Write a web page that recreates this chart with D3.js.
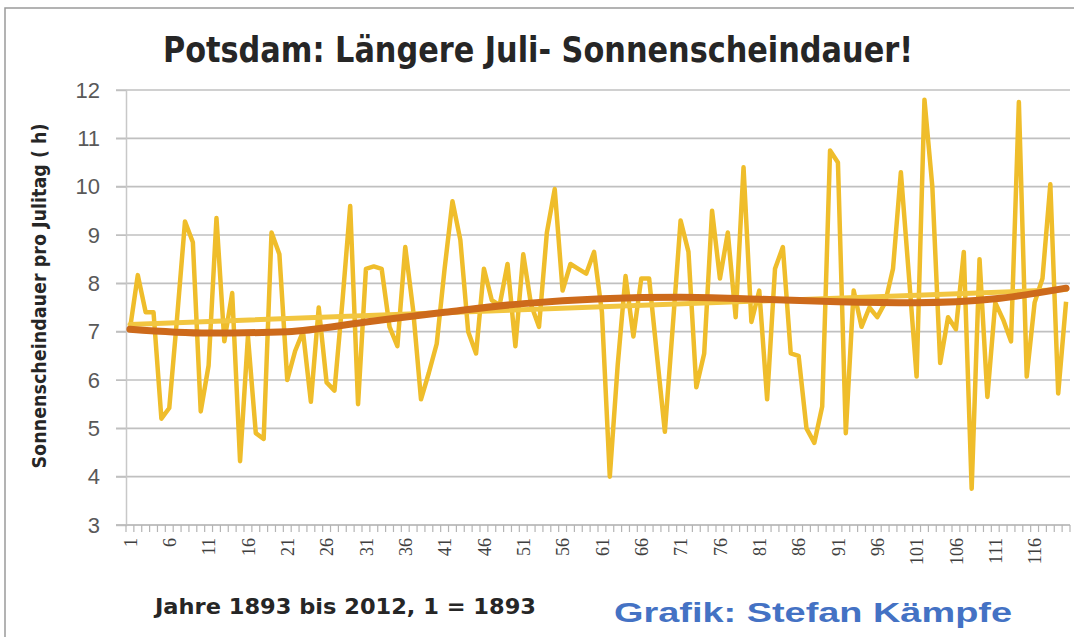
<!DOCTYPE html>
<html>
<head>
<meta charset="utf-8">
<script src="https://cdn.jsdelivr.net/npm/d3@7"></script>
<style>
  html, body { margin: 0; padding: 0; background: #fff; }
  svg { display: block; }
</style>
</head>
<body>
<svg id="chart" width="1074" height="637"></svg>
<script>
// Jahre 1..120 (1 = 1893)
const years = d3.range(1, 121);

// Sonnenscheindauer pro Julitag (h)
const sunshine = [
  7.05, 8.17, 7.4, 7.4, 5.2, 5.42, 7.3, 9.28, 8.85, 5.35,
  6.3, 9.35, 6.8, 7.8, 4.32, 6.9, 4.9, 4.78, 9.05, 8.6,
  6.0, 6.6, 7.0, 5.55, 7.5, 5.95, 5.78, 7.6, 9.6, 5.5,
  8.3, 8.35, 8.3, 7.1, 6.7, 8.75, 7.45, 5.6, 6.15, 6.75,
  8.3, 9.7, 8.9, 7.0, 6.55, 8.3, 7.65, 7.55, 8.4, 6.7,
  8.6, 7.55, 7.1, 9.05, 9.95, 7.85, 8.4, 8.3, 8.2, 8.65,
  7.4, 4.0, 6.3, 8.15, 6.9, 8.1, 8.1, 6.5, 4.93, 7.1,
  9.3, 8.65, 5.85, 6.55, 9.5, 8.1, 9.05, 7.3, 10.4, 7.2,
  7.85, 5.6, 8.3, 8.75, 6.55, 6.5, 5.0, 4.7, 5.45, 10.75,
  10.5, 4.9, 7.85, 7.1, 7.5, 7.3, 7.6, 8.3, 10.3, 8.2,
  6.07, 11.8, 10.0, 6.35, 7.3, 7.05, 8.65, 3.75, 8.5, 5.65,
  7.6, 7.25, 6.8, 11.75, 6.07, 7.6, 8.1, 10.05, 5.72, 7.62
];

// linear trend (endpoints) and polynomial trend (read at sample years)
const linearYears = [1, 120];
const linearTrend = [7.15, 7.87];
const polyYears = [1, 11, 21, 31, 41, 51, 61, 71, 81, 91, 101, 111, 120];
const polyTrend = [7.05, 6.97, 7.0, 7.2, 7.4, 7.58, 7.68, 7.71, 7.67, 7.62, 7.6, 7.68, 7.9];

const yTicks = d3.range(3, 13);
const xTickLabels = d3.range(1, 121, 5);

const svg = d3.select("#chart");

// chart frame
svg.append("rect")
  .attr("x", 5).attr("y", 8)
  .attr("width", 1100).attr("height", 700)
  .attr("fill", "#fff")
  .attr("stroke", "#9a9a9a")
  .attr("stroke-width", 1.5);

const plotLeft = 126, plotRight = 1070, plotTop = 90, plotBottom = 525;

const x = d3.scalePoint().domain(years).range([plotLeft, plotRight]).padding(0.5);
const xBand = d3.scaleBand().domain(years).range([plotLeft, plotRight]);
const y = d3.scaleLinear().domain([3, 12]).range([plotBottom, plotTop]);

// gridlines
svg.append("g")
  .selectAll("line")
  .data(yTicks)
  .enter().append("line")
  .attr("x1", plotLeft - 10)
  .attr("x2", plotRight)
  .attr("y1", d => y(d))
  .attr("y2", d => y(d))
  .attr("stroke", "#c0c0c0")
  .attr("stroke-width", 1.6);

// y axis
const yAxis = svg.append("g")
  .attr("transform", "translate(" + plotLeft + ",0)")
  .call(d3.axisLeft(y).tickValues(yTicks).tickSize(10).tickPadding(16));
yAxis.select(".domain").attr("stroke", "#c8c8c8").attr("stroke-width", 1.5);
yAxis.selectAll(".tick line").attr("stroke", "#c0c0c0");
yAxis.selectAll("text")
  .attr("font-family", "Liberation Sans, Arial, sans-serif")
  .attr("font-size", 22)
  .attr("fill", "#595959");

// x axis
const xAxis = svg.append("g")
  .attr("transform", "translate(0," + plotBottom + ")")
  .call(d3.axisBottom(x).tickValues(xTickLabels).tickSize(0).tickPadding(0));
xAxis.select(".domain").remove();
xAxis.selectAll("text")
  .attr("transform", "rotate(-90)")
  .attr("x", -13)
  .attr("y", 0)
  .attr("dy", "0.35em")
  .attr("text-anchor", "end")
  .attr("font-family", "Liberation Serif, DejaVu Serif, serif")
  .attr("font-size", 18)
  .attr("fill", "#404040");

svg.append("line")
  .attr("x1", plotLeft - 10).attr("x2", plotRight)
  .attr("y1", plotBottom).attr("y2", plotBottom)
  .attr("stroke", "#bdbdbd").attr("stroke-width", 1.6);

svg.append("g")
  .selectAll("line")
  .data(years.map(d => xBand(d)).concat([plotRight]))
  .enter().append("line")
  .attr("x1", d => d).attr("x2", d => d)
  .attr("y1", plotBottom).attr("y2", plotBottom + 7)
  .attr("stroke", "#b5b5b5")
  .attr("stroke-width", 1.2);

// data line
const line = d3.line()
  .x((d, i) => x(years[i]))
  .y(d => y(d));

svg.append("path")
  .datum(sunshine)
  .attr("d", line)
  .attr("fill", "none")
  .attr("stroke", "#efbd2b")
  .attr("stroke-width", 4.5)
  .attr("stroke-linejoin", "round");

// linear trend
svg.append("path")
  .datum(linearTrend)
  .attr("d", d3.line().x((d, i) => x(linearYears[i])).y(d => y(d)))
  .attr("fill", "none")
  .attr("stroke", "#f2c640")
  .attr("stroke-width", 5)
  .attr("stroke-linecap", "round");

// polynomial trend
svg.append("path")
  .datum(polyTrend)
  .attr("d", d3.line()
    .x((d, i) => x(polyYears[i]))
    .y(d => y(d))
    .curve(d3.curveMonotoneX))
  .attr("fill", "none")
  .attr("stroke", "#cd6a1b")
  .attr("stroke-width", 7)
  .attr("stroke-linecap", "round");

// title
svg.append("text")
  .attr("x", 163).attr("y", 62)
  .attr("textLength", 750)
  .attr("lengthAdjust", "spacingAndGlyphs")
  .attr("font-family", "Liberation Sans Narrow, DejaVu Sans Condensed, Arial, sans-serif")
  .attr("font-weight", "bold")
  .attr("font-size", 36)
  .attr("fill", "#262626")
  .text("Potsdam: Längere Juli- Sonnenscheindauer!");

// y axis title
svg.append("text")
  .attr("transform", "translate(46,296) rotate(-90)")
  .attr("text-anchor", "middle")
  .attr("textLength", 345)
  .attr("lengthAdjust", "spacingAndGlyphs")
  .attr("font-family", "Liberation Sans Narrow, DejaVu Sans Condensed, Arial, sans-serif")
  .attr("font-weight", "bold")
  .attr("font-size", 19)
  .attr("fill", "#262626")
  .text("Sonnenscheindauer pro Julitag ( h)");

// x caption
svg.append("text")
  .attr("x", 155).attr("y", 614)
  .attr("textLength", 381)
  .attr("lengthAdjust", "spacingAndGlyphs")
  .attr("font-family", "Liberation Sans Narrow, DejaVu Sans Condensed, Arial, sans-serif")
  .attr("font-weight", "bold")
  .attr("font-size", 22)
  .attr("fill", "#262626")
  .text("Jahre 1893 bis 2012, 1 = 1893");

// credit
svg.append("text")
  .attr("x", 614).attr("y", 622)
  .attr("textLength", 398)
  .attr("lengthAdjust", "spacingAndGlyphs")
  .attr("font-family", "Liberation Sans, Arial, sans-serif")
  .attr("font-weight", "bold")
  .attr("font-size", 27)
  .attr("fill", "#4472c4")
  .text("Grafik: Stefan Kämpfe");
</script>
</body>
</html>
